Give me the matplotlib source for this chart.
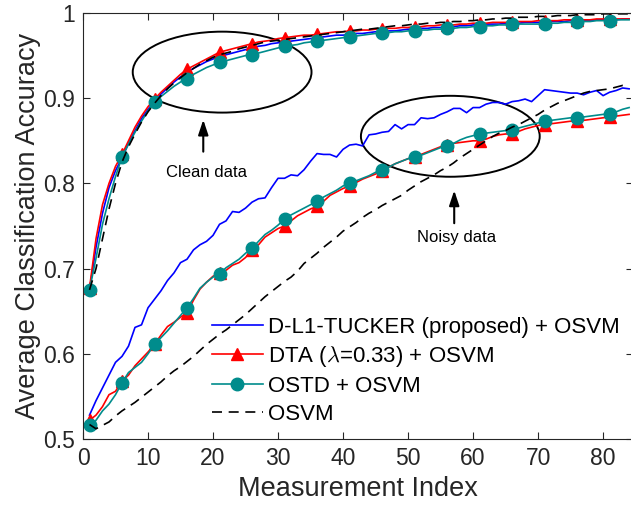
import numpy as np
import matplotlib
matplotlib.use("Agg")
import matplotlib.pyplot as plt
from matplotlib.patches import Ellipse

plt.rcParams["font.family"] = ["Liberation Sans", "DejaVu Sans"]
plt.rcParams["mathtext.fontset"] = "cm"

# measurement index 1..84
idx = np.arange(1, 85)

# --- clean data curves ---
clean_dl1 = [0.675, 0.725, 0.765, 0.795, 0.815, 0.830, 0.847, 0.862, 0.876, 0.887,
             0.896, 0.905, 0.912, 0.919, 0.925, 0.930, 0.935, 0.939, 0.943, 0.946,
             0.949, 0.951, 0.953, 0.955, 0.957, 0.959, 0.961, 0.962, 0.964, 0.965,
             0.966, 0.967, 0.968, 0.969, 0.970, 0.971, 0.972, 0.973, 0.974, 0.974,
             0.975, 0.976, 0.976, 0.977, 0.978, 0.978, 0.979, 0.979, 0.980, 0.981,
             0.981, 0.982, 0.982, 0.983, 0.983, 0.984, 0.984, 0.985, 0.985, 0.986,
             0.986, 0.987, 0.987, 0.987, 0.988, 0.988, 0.988, 0.989, 0.989, 0.989,
             0.990, 0.990, 0.990, 0.990, 0.991, 0.991, 0.991, 0.991, 0.992, 0.992,
             0.992, 0.992, 0.993, 0.993]
clean_dta = [0.677, 0.735, 0.775, 0.800, 0.820, 0.834, 0.850, 0.866, 0.879, 0.890,
             0.899, 0.907, 0.914, 0.921, 0.928, 0.934, 0.938, 0.942, 0.946, 0.950,
             0.954, 0.956, 0.958, 0.960, 0.962, 0.964, 0.966, 0.967, 0.968, 0.970,
             0.971, 0.972, 0.973, 0.974, 0.974, 0.975, 0.976, 0.977, 0.978, 0.978,
             0.979, 0.979, 0.980, 0.980, 0.981, 0.981, 0.982, 0.982, 0.983, 0.983,
             0.984, 0.984, 0.985, 0.985, 0.986, 0.986, 0.986, 0.987, 0.987, 0.988,
             0.988, 0.988, 0.989, 0.989, 0.989, 0.990, 0.990, 0.990, 0.990, 0.991,
             0.991, 0.991, 0.991, 0.992, 0.992, 0.992, 0.992, 0.992, 0.993, 0.993,
             0.993, 0.993, 0.993, 0.993]
clean_ostd = [0.675, 0.712, 0.752, 0.782, 0.808, 0.831, 0.846, 0.860, 0.873, 0.885,
              0.895, 0.902, 0.908, 0.914, 0.919, 0.923, 0.928, 0.932, 0.936, 0.939,
              0.942, 0.944, 0.946, 0.948, 0.950, 0.951, 0.953, 0.955, 0.957, 0.959,
              0.961, 0.962, 0.963, 0.965, 0.966, 0.967, 0.968, 0.969, 0.970, 0.971,
              0.972, 0.973, 0.974, 0.975, 0.976, 0.977, 0.977, 0.978, 0.978, 0.979,
              0.979, 0.980, 0.980, 0.981, 0.981, 0.982, 0.982, 0.983, 0.983, 0.984,
              0.984, 0.985, 0.985, 0.986, 0.986, 0.987, 0.987, 0.987, 0.987, 0.987,
              0.987, 0.988, 0.988, 0.989, 0.989, 0.990, 0.990, 0.990, 0.991, 0.991,
              0.991, 0.992, 0.992, 0.992]
clean_osvm = [0.675, 0.700, 0.735, 0.770, 0.800, 0.825, 0.843, 0.858, 0.872, 0.884,
              0.894, 0.903, 0.911, 0.918, 0.924, 0.930, 0.935, 0.940, 0.944, 0.948,
              0.951, 0.953, 0.955, 0.958, 0.960, 0.962, 0.964, 0.966, 0.967, 0.968,
              0.969, 0.970, 0.971, 0.972, 0.973, 0.974, 0.975, 0.976, 0.977, 0.978,
              0.979, 0.980, 0.981, 0.981, 0.982, 0.983, 0.984, 0.985, 0.985, 0.986,
              0.987, 0.987, 0.988, 0.988, 0.989, 0.989, 0.990, 0.990, 0.991, 0.991,
              0.992, 0.992, 0.993, 0.993, 0.994, 0.994, 0.995, 0.995, 0.995, 0.996,
              0.996, 0.996, 0.997, 0.997, 0.997, 0.998, 0.998, 0.998, 0.998, 0.999,
              0.999, 0.999, 0.999, 0.999]

# --- noisy data curves ---
noisy_dl1 = [0.528, 0.545, 0.560, 0.575, 0.590, 0.597, 0.609, 0.631, 0.634, 0.654,
             0.664, 0.674, 0.686, 0.695, 0.707, 0.711, 0.722, 0.728, 0.732, 0.739,
             0.752, 0.756, 0.767, 0.766, 0.771, 0.778, 0.782, 0.783, 0.795, 0.806,
             0.806, 0.810, 0.809, 0.816, 0.826, 0.835, 0.834, 0.834, 0.831, 0.840,
             0.845, 0.846, 0.844, 0.857, 0.858, 0.860, 0.861, 0.869, 0.864, 0.869,
             0.869, 0.877, 0.876, 0.877, 0.881, 0.884, 0.888, 0.888, 0.883, 0.889,
             0.889, 0.893, 0.895, 0.895, 0.893, 0.896, 0.897, 0.899, 0.896, 0.903,
             0.910, 0.909, 0.908, 0.907, 0.906, 0.906, 0.904, 0.907, 0.909, 0.903,
             0.907, 0.909, 0.912, 0.911]
noisy_dta = [0.522, 0.528, 0.538, 0.552, 0.556, 0.568, 0.575, 0.586, 0.594, 0.602,
             0.611, 0.622, 0.632, 0.637, 0.643, 0.648, 0.663, 0.676, 0.684, 0.691,
             0.695, 0.698, 0.704, 0.707, 0.713, 0.722, 0.728, 0.737, 0.742, 0.747,
             0.750, 0.756, 0.762, 0.766, 0.770, 0.773, 0.779, 0.786, 0.790, 0.794,
             0.797, 0.801, 0.805, 0.808, 0.811, 0.815, 0.819, 0.823, 0.826, 0.829,
             0.831, 0.834, 0.837, 0.840, 0.843, 0.845, 0.847, 0.848, 0.849, 0.850,
             0.850, 0.852, 0.855, 0.857, 0.858, 0.858, 0.861, 0.864, 0.866, 0.868,
             0.869, 0.870, 0.871, 0.872, 0.873, 0.873, 0.874, 0.875, 0.876, 0.877,
             0.878, 0.879, 0.880, 0.881]
noisy_ostd = [0.517, 0.522, 0.533, 0.541, 0.552, 0.566, 0.578, 0.584, 0.590, 0.600,
              0.611, 0.619, 0.627, 0.636, 0.645, 0.654, 0.665, 0.677, 0.684, 0.690,
              0.694, 0.701, 0.706, 0.711, 0.718, 0.724, 0.732, 0.740, 0.745, 0.751,
              0.758, 0.763, 0.767, 0.771, 0.775, 0.779, 0.784, 0.788, 0.792, 0.797,
              0.800, 0.803, 0.806, 0.809, 0.813, 0.816, 0.819, 0.823, 0.826, 0.829,
              0.831, 0.833, 0.836, 0.839, 0.842, 0.844, 0.847, 0.851, 0.854, 0.856,
              0.858, 0.859, 0.860, 0.861, 0.862, 0.863, 0.865, 0.867, 0.869, 0.871,
              0.873, 0.874, 0.875, 0.876, 0.877, 0.877, 0.878, 0.879, 0.880, 0.881,
              0.882, 0.884, 0.887, 0.889]
noisy_osvm = [0.517, 0.512, 0.516, 0.520, 0.527, 0.533, 0.538, 0.543, 0.549, 0.555,
              0.561, 0.567, 0.574, 0.580, 0.585, 0.591, 0.597, 0.604, 0.611, 0.617,
              0.623, 0.628, 0.634, 0.640, 0.646, 0.653, 0.660, 0.667, 0.673, 0.679,
              0.685, 0.690, 0.697, 0.706, 0.712, 0.718, 0.725, 0.731, 0.737, 0.744,
              0.749, 0.754, 0.760, 0.765, 0.769, 0.774, 0.778, 0.782, 0.786, 0.792,
              0.797, 0.802, 0.806, 0.810, 0.815, 0.819, 0.824, 0.830, 0.835, 0.840,
              0.845, 0.850, 0.855, 0.859, 0.862, 0.866, 0.869, 0.873, 0.877, 0.881,
              0.886, 0.890, 0.894, 0.897, 0.900, 0.903, 0.906, 0.908, 0.909, 0.910,
              0.911, 0.913, 0.915, 0.914]

labels = ["D-L1-TUCKER (proposed) + OSVM", r"DTA ($\lambda$=0.33) + OSVM",
          "OSTD + OSVM", "OSVM"]

TEAL = "#008C8C"
AX_COLOR = "#262626"

fig = plt.figure(figsize=(6.31, 5.08), dpi=100)
ax = fig.add_axes([83 / 631, 69 / 508, (633 - 83) / 631, (439 - 13) / 508])

styles = [
    dict(color="blue", lw=1.2),
    dict(color="red", lw=1.2, marker="^", ms=9, markevery=(0, 5)),
    dict(color=TEAL, lw=1.2, marker="o", ms=9, markevery=(0, 5)),
    dict(color="black", lw=1.2, linestyle=(0, (6, 4))),
]

handles = []
for data in ([clean_dl1, clean_dta, clean_ostd, clean_osvm],
             [noisy_dl1, noisy_dta, noisy_ostd, noisy_osvm]):
    hs = []
    for y, st in zip(data, styles):
        (h,) = ax.plot(idx, y, **st)
        hs.append(h)
    handles = hs

# ellipses + arrows
for cx, cy in [(21.4, 0.9306), (56.5, 0.8553)]:
    ax.add_patch(Ellipse((cx, cy), 27.5, 0.095, fill=False, ec="black", lw=1.4))

ax.annotate("", xy=(18.5, 0.878), xytext=(18.5, 0.834),
            arrowprops=dict(arrowstyle="-|>,head_length=0.9,head_width=0.3",
                            color="black", lw=1.5))
ax.text(19.0, 0.813, "Clean data", ha="center", va="center", fontsize=12)
ax.annotate("", xy=(57.1, 0.795), xytext=(57.1, 0.750),
            arrowprops=dict(arrowstyle="-|>,head_length=0.9,head_width=0.3",
                            color="black", lw=1.5))
ax.text(57.5, 0.736, "Noisy data", ha="center", va="center", fontsize=12)

ax.set_xlim(0, 84.6)
ax.set_ylim(0.5, 1.0)
ax.set_xticks(np.arange(0, 81, 10))
ax.set_yticks([0.5, 0.6, 0.7, 0.8, 0.9, 1.0])
ax.set_yticklabels(["0.5", "0.6", "0.7", "0.8", "0.9", "1"])
ax.tick_params(direction="in", top=True, right=True, length=5, width=0.8,
               colors=AX_COLOR, labelsize=16.5, pad=6)
for sp in ax.spines.values():
    sp.set_color(AX_COLOR)
    sp.set_linewidth(0.8)

ax.set_xlabel("Measurement Index", fontsize=19.5, color=AX_COLOR, labelpad=4)
ax.set_ylabel("Average Classification Accuracy", fontsize=19.5, color=AX_COLOR,
              labelpad=1)

ax.legend(handles, labels, loc="upper left", bbox_to_anchor=(196 / 631, 1 - 301 / 508),
          bbox_transform=fig.transFigure, frameon=False, fontsize=16,
          handlelength=2.3, handletextpad=0.25, labelspacing=0.3,
          borderpad=0.2)

fig.savefig("out.png", dpi=100)
